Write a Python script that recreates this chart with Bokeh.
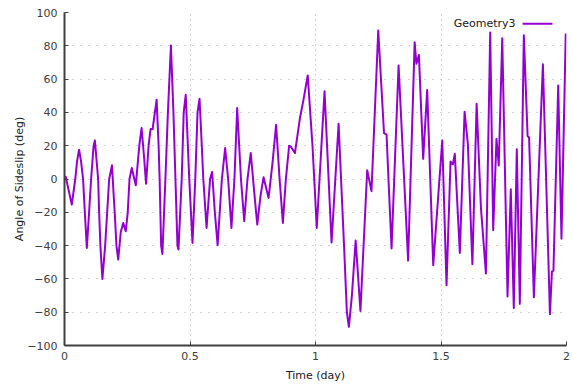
from bokeh.plotting import figure
from bokeh.models import FixedTicker, Label, Range1d
from bokeh.embed import file_html
from bokeh.resources import INLINE

# Sideslip angle of Geometry3 over two days
time_day = [
    0.000, 0.005, 0.016, 0.029, 0.043, 0.050, 0.058, 0.066, 0.074, 0.081,
    0.089, 0.098, 0.106, 0.116, 0.121, 0.134, 0.138, 0.143, 0.151, 0.162,
    0.170, 0.178, 0.189, 0.200, 0.207, 0.214, 0.224, 0.234, 0.244, 0.252,
    0.259, 0.268, 0.284, 0.298, 0.307, 0.316, 0.325, 0.335, 0.343, 0.351,
    0.367, 0.375, 0.379, 0.385, 0.390, 0.402, 0.412, 0.424, 0.434, 0.442,
    0.450, 0.454, 0.467, 0.475, 0.483, 0.497, 0.510, 0.521, 0.530, 0.538,
    0.547, 0.553, 0.566, 0.580, 0.588, 0.599, 0.610, 0.627, 0.640, 0.652,
    0.665, 0.677, 0.688, 0.703, 0.716, 0.729, 0.742, 0.756, 0.768, 0.781,
    0.793, 0.813, 0.829, 0.843, 0.857, 0.870, 0.882, 0.895, 0.902, 0.918,
    0.938, 0.951, 0.969, 0.988, 0.995, 1.005,
    1.036, 1.064, 1.092, 1.114, 1.125, 1.133, 1.145, 1.160, 1.179, 1.206,
    1.223, 1.250, 1.273, 1.283, 1.303, 1.331, 1.369, 1.395, 1.402, 1.412,
    1.429, 1.445, 1.469, 1.505, 1.522, 1.538, 1.547, 1.555, 1.575, 1.594,
    1.607, 1.625, 1.642, 1.659, 1.679, 1.696, 1.708, 1.721, 1.730, 1.744,
    1.765, 1.778, 1.790, 1.802, 1.814, 1.830, 1.845, 1.851, 1.870, 1.906,
    1.934, 1.942, 1.948, 1.967, 1.980, 1.997,
]
sideslip_deg = [
    1.5, 1.2, -6.4, -15.4, 0.0, 10.6, 17.6, 10.6, 0.0, -20.0,
    -41.4, -20.0, 0.0, 20.0, 23.2, 0.0, -20.0, -40.0, -60.0, -40.0,
    -20.0, 0.0, 8.2, -20.0, -40.0, -48.4, -32.0, -26.4, -31.4, -20.0,
    0.0, 6.6, -3.8, 20.0, 30.6, 15.0, -2.8, 20.0, 30.0, 30.0,
    47.6, 20.0, 0.0, -40.0, -45.0, 0.0, 40.0, 80.2, 40.0, 0.0,
    -40.0, -42.4, 0.0, 40.0, 50.6, 0.0, -38.4, 0.0, 40.0, 48.2,
    20.0, 0.0, -29.4, 0.0, 4.2, -20.0, -39.8, 0.0, 18.6, 0.0,
    -29.4, 0.0, 42.6, 0.0, -25.4, 0.0, 15.6, -8.0, -27.4, -10.0,
    1.0, -11.4, 10.0, 32.6, 0.0, -26.4, 0.0, 20.0, 19.4, 15.6,
    36.6, 46.6, 62.2, 20.0, 0.0, -29.4,
    52.7, -38.1, 33.2, -41.0, -80.0, -88.8, -70.0, -36.9, -79.3, 5.3,
    -7.3, 89.2, 27.5, 26.7, -41.7, 68.2, -49.0, 82.2, 69.2, 74.5,
    12.1, 53.5, -51.8, 23.1, -63.8, 10.5, 8.7, 15.1, -44.4, 40.4,
    21.0, -51.2, 45.2, -17.1, -56.8, 88.0, -30.8, 24.1, 8.1, 84.5,
    -70.6, -6.1, -77.5, 17.9, -75.0, 86.4, 25.8, 24.9, -71.0, 68.9,
    -81.2, -55.6, -55.0, 56.2, -35.9, 87.4,
]
series_name = "Geometry3"

x_ticks = [0, 0.5, 1, 1.5, 2]
x_tick_labels = {0: "0", 1: "1", 2: "2"}
y_ticks = [-100, -80, -60, -40, -20, 0, 20, 40, 60, 80, 100]

LINE_COLOR = "#9400d3"
INK = "#404040"
FONT = "DejaVu Sans"

p = figure(
    width=573, height=388,
    output_backend="svg", toolbar_location=None,
    x_range=Range1d(0, 2), y_range=Range1d(-100, 100),
    min_border_left=64, min_border_right=7,
    min_border_top=12, min_border_bottom=43,
    x_axis_label="Time (day)", y_axis_label="Angle of Sideslip (deg)",
)
p.outline_line_color = None
p.background_fill_color = "white"
p.border_fill_color = "white"

p.line(time_day, sideslip_deg, line_color=LINE_COLOR, line_width=2,
       line_join="round")

p.xaxis.ticker = FixedTicker(ticks=x_ticks)
p.yaxis.ticker = FixedTicker(ticks=y_ticks)
p.xaxis.major_label_overrides = x_tick_labels

for ax in (p.xaxis[0], p.yaxis[0]):
    ax.axis_line_color = INK
    ax.axis_line_width = 2
    ax.major_tick_line_color = INK
    ax.major_tick_line_width = 1
    ax.major_tick_in = 4
    ax.major_tick_out = 0
    ax.minor_tick_in = 0
    ax.minor_tick_out = 0
    ax.major_label_text_font = FONT
    ax.major_label_text_font_size = "11px"
    ax.major_label_text_color = INK
    ax.axis_label_text_font = FONT
    ax.axis_label_text_font_size = "11px"
    ax.axis_label_text_font_style = "normal"
    ax.axis_label_text_color = "#202020"

p.xaxis.major_label_standoff = 6
p.xaxis.axis_label_standoff = 6
p.yaxis.major_label_standoff = 7
p.yaxis.axis_label_standoff = -2

p.xgrid.ticker = FixedTicker(ticks=x_ticks)
p.ygrid.ticker = FixedTicker(ticks=y_ticks)
p.xgrid.grid_line_color = "#a8a8a8"
p.xgrid.grid_line_dash = "1 4"
p.ygrid.grid_line_color = "#a8a8a8"
p.ygrid.grid_line_dash = "1 7"

# key in the upper right corner: name first, line sample after it
KEY_Y = 93.2
p.add_layout(Label(x=1.797, y=KEY_Y, text=series_name, text_align="right",
                   text_baseline="middle", text_font=FONT,
                   text_font_size="11px", text_color="#202020"))
p.line([1.825, 1.944], [KEY_Y, KEY_Y], line_color=LINE_COLOR, line_width=2)

open("out.html", "w").write(file_html(p, INLINE))
